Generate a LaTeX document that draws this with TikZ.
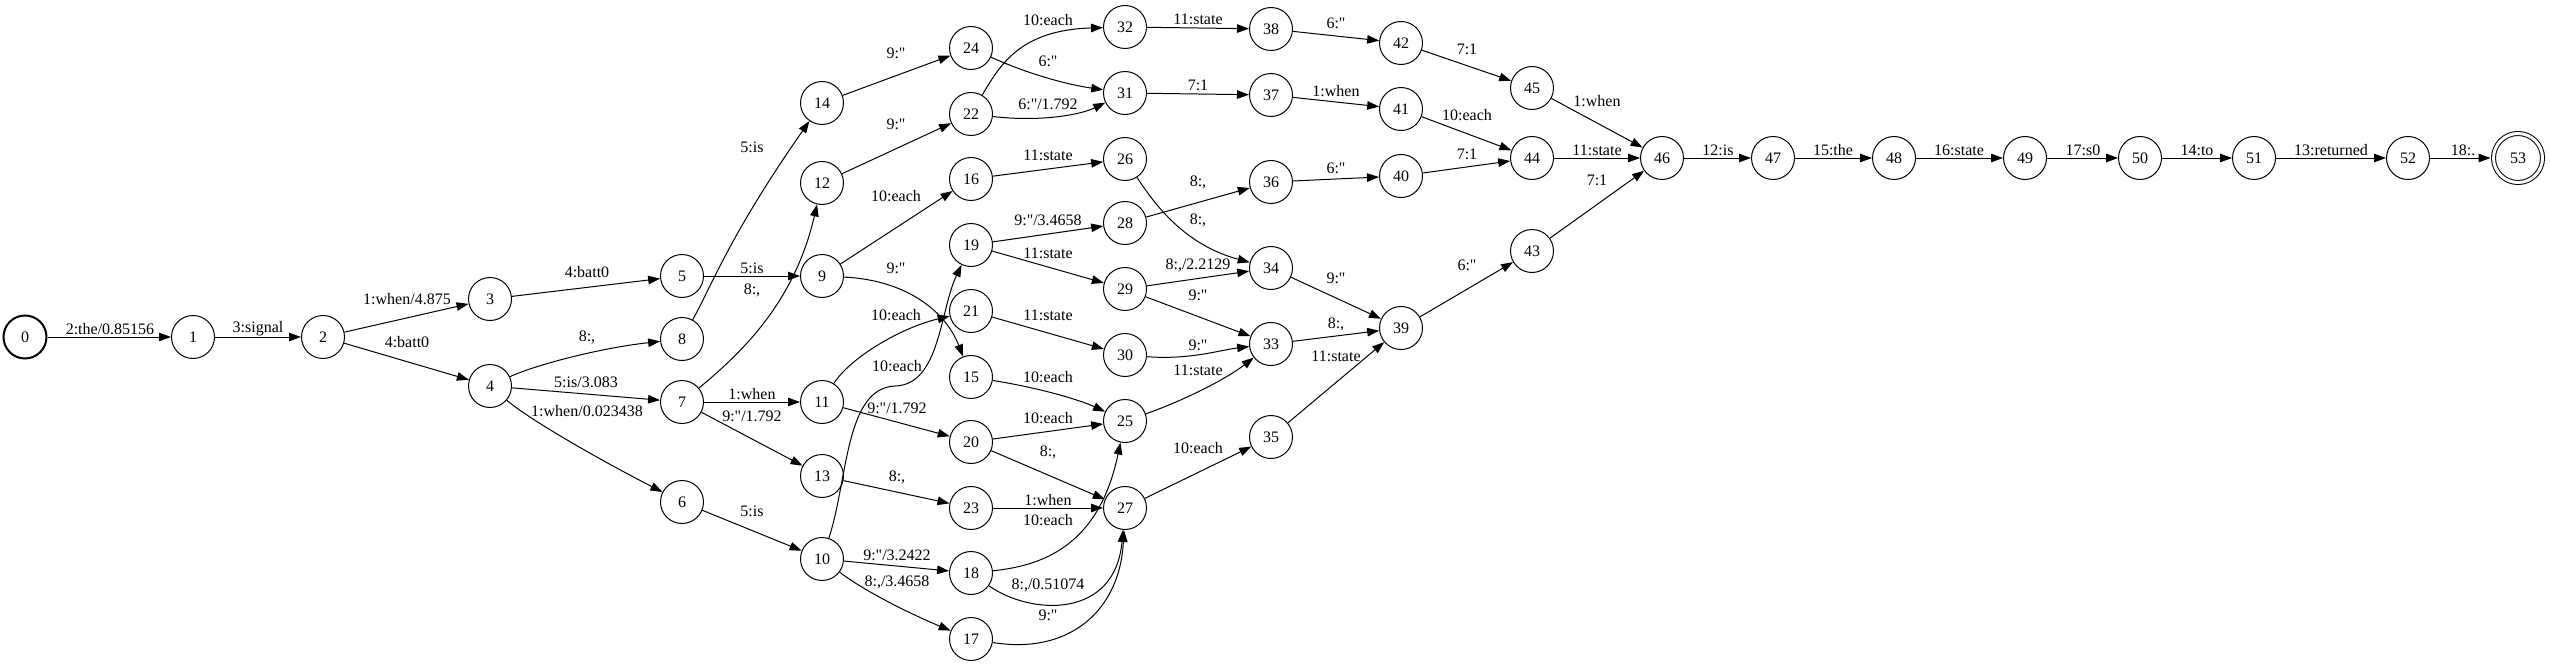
\documentclass[tikz,border=0pt]{standalone}
\usepackage{fontspec}
\setmainfont{Liberation Serif}[Ligatures=TeXOff]
\usetikzlibrary{arrows.meta}
\begin{document}
\begin{tikzpicture}[x=1pt,y=-1pt,
  st/.style={circle,draw,line width=1pt,minimum size=43pt,inner sep=0pt,font=\fontsize{16}{19}\selectfont},
  lb/.style={inner sep=0pt,font=\fontsize{16}{19}\selectfont},
  ed/.style={-{Triangle[length=12pt,width=8.5pt]},line width=1pt}]
\useasboundingbox (0,0) rectangle (2550,666);
% states
\node[st,line width=2pt] (n0) at (25,337) {0};
\node[st] (n1) at (193,337) {1};
\node[st] (n2) at (323,337) {2};
\node[st] (n3) at (490,299) {3};
\node[st] (n4) at (490,386) {4};
\node[st] (n5) at (682,276) {5};
\node[st] (n8) at (682,339) {8};
\node[st] (n7) at (682,402) {7};
\node[st] (n6) at (682,502) {6};
\node[st] (n14) at (822,103) {14};
\node[st] (n12) at (822,183) {12};
\node[st] (n9) at (822,276) {9};
\node[st] (n11) at (822,402) {11};
\node[st] (n13) at (822,476) {13};
\node[st] (n10) at (822,559) {10};
\node[st] (n24) at (971,48) {24};
\node[st] (n22) at (971,114) {22};
\node[st] (n16) at (971,179) {16};
\node[st] (n19) at (971,245) {19};
\node[st] (n21) at (971,311) {21};
\node[st] (n15) at (971,377) {15};
\node[st] (n20) at (971,442) {20};
\node[st] (n23) at (971,508) {23};
\node[st] (n18) at (971,573) {18};
\node[st] (n17) at (971,639) {17};
\node[st] (n32) at (1125,27) {32};
\node[st] (n31) at (1125,93) {31};
\node[st] (n26) at (1125,159) {26};
\node[st] (n28) at (1125,223) {28};
\node[st] (n29) at (1125,289) {29};
\node[st] (n30) at (1125,355) {30};
\node[st] (n25) at (1125,421) {25};
\node[st] (n27) at (1125,508) {27};
\node[st] (n38) at (1271,29) {38};
\node[st] (n37) at (1271,95) {37};
\node[st] (n36) at (1271,182) {36};
\node[st] (n34) at (1271,268) {34};
\node[st] (n33) at (1271,344) {33};
\node[st] (n35) at (1271,437) {35};
\node[st] (n42) at (1401,43) {42};
\node[st] (n41) at (1401,109) {41};
\node[st] (n40) at (1401,176) {40};
\node[st] (n39) at (1401,328) {39};
\node[st] (n45) at (1532,88) {45};
\node[st] (n44) at (1532,158) {44};
\node[st] (n43) at (1532,251) {43};
\node[st] (n46) at (1662,158) {46};
\node[st] (n47) at (1773,158) {47};
\node[st] (n48) at (1894,158) {48};
\node[st] (n49) at (2025,158) {49};
\node[st] (n50) at (2140,158) {50};
\node[st] (n51) at (2254,158) {51};
\node[st] (n52) at (2408,158) {52};
\node[st,minimum size=49pt,double,double distance=3pt,outer sep=3pt] (n53) at (2518,158) {53};
\coordinate (k10) at (895,386);
% edges
\draw[ed] (n0)--(n1);
\draw[ed] (n1)--(n2);
\draw[ed] (n2)--(n3);
\draw[ed] (n2)--(n4);
\draw[ed] (n3)--(n5);
\draw[ed] (n4) .. controls (535,365) and (600,348) .. (n8);
\draw[ed] (n4)--(n7);
\draw[ed] (n4) .. controls (530,420) and (600,460) .. (n6);
\draw[ed] (n5)--(n9);
\draw[ed] (n8) .. controls (712,285) and (730,235) .. (n14);
\draw[ed] (n7) .. controls (745,350) and (795,300) .. (n12);
\draw[ed] (n7)--(n11);
\draw[ed] (n7)--(n13);
\draw[ed] (n6)--(n10);
\draw[ed] (n9)--(n16);
\draw[ed] (n9) .. controls (905,280) and (945,310) .. (n15);
\draw[ed] (n12)--(n22);
\draw[ed] (n14)--(n24);
\draw[ed] (n11) .. controls (850,358) and (900,328) .. (n21);
\draw[ed] (n10) .. controls (848,480) and (845,388) .. (k10) .. controls (940,385) and (940,310) .. (n19);
\draw[ed] (n11)--(n20);
\draw[ed] (n13)--(n23);
\draw[ed] (n10)--(n18);
\draw[ed] (n10) .. controls (870,595) and (920,618) .. (n17);
\draw[ed] (n24) .. controls (1030,75) and (1070,85) .. (n31);
\draw[ed] (n22) .. controls (1000,65) and (1020,30) .. (n32);
\draw[ed] (n22) .. controls (1040,122) and (1080,115) .. (n31);
\draw[ed] (n16)--(n26);
\draw[ed] (n19)--(n28);
\draw[ed] (n19)--(n29);
\draw[ed] (n21)--(n30);
\draw[ed] (n15) .. controls (1040,388) and (1080,400) .. (n25);
\draw[ed] (n20)--(n25);
\draw[ed] (n20)--(n27);
\draw[ed] (n23)--(n27);
\draw[ed] (n18) .. controls (1050,565) and (1100,540) .. (n25);
\draw[ed] (n18) .. controls (1030,615) and (1115,620) .. (n27);
\draw[ed] (n17) .. controls (1070,655) and (1120,610) .. (n27);
\draw[ed] (n32)--(n38);
\draw[ed] (n31)--(n37);
\draw[ed] (n26) .. controls (1155,205) and (1185,245) .. (n34);
\draw[ed] (n28)--(n36);
\draw[ed] (n29)--(n34);
\draw[ed] (n29)--(n33);
\draw[ed] (n30) .. controls (1190,360) and (1220,350) .. (n33);
\draw[ed] (n25) .. controls (1180,402) and (1225,380) .. (n33);
\draw[ed] (n27)--(n35);
\draw[ed] (n38)--(n42);
\draw[ed] (n37)--(n41);
\draw[ed] (n36)--(n40);
\draw[ed] (n34)--(n39);
\draw[ed] (n33)--(n39);
\draw[ed] (n35)--(n39);
\draw[ed] (n42)--(n45);
\draw[ed] (n41)--(n44);
\draw[ed] (n40)--(n44);
\draw[ed] (n39)--(n43);
\draw[ed] (n45)--(n46);
\draw[ed] (n44)--(n46);
\draw[ed] (n43)--(n46);
\draw[ed] (n46)--(n47);
\draw[ed] (n47)--(n48);
\draw[ed] (n48)--(n49);
\draw[ed] (n49)--(n50);
\draw[ed] (n50)--(n51);
\draw[ed] (n51)--(n52);
\draw[ed] (n52)--(n53);
% labels
\node[lb] (t01) at (110,329) {2:the/0.85156};
\node[lb] (t12) at (258,329) {3:signal};
\node[lb] (t23) at (407,299) {1:when/4.875};
\node[lb] (t24) at (407,342) {4:batt0};
\node[lb] (t35) at (587,272) {4:batt0};
\node[lb] (t814) at (752,147) {5:is};
\node[lb] (t59) at (752,268) {5:is};
\node[lb] (t712) at (752,290) {8:,};
\node[lb] (t48) at (587,337) {8:,};
\node[lb] (t47) at (586,382) {5:is/3.083};
\node[lb] (t46) at (587,411) {1:when/0.023438};
\node[lb] (t711) at (752,394) {1:when};
\node[lb] (t713) at (752,416) {9:"/1.792};
\node[lb] (t610) at (752,511) {5:is};
\node[lb] (t1424) at (896,53) {9:"};
\node[lb] (t1222) at (896,124) {9:"};
\node[lb] (t916) at (896,196) {10:each};
\node[lb] (t915) at (896,268) {9:"};
\node[lb] (t1121) at (896,315) {10:each};
\node[lb] (t1019) at (897,366) {10:each};
\node[lb] (t1120) at (897,408) {9:"/1.792};
\node[lb] (t1323) at (897,477) {8:,};
\node[lb] (t1018) at (897,555) {9:"/3.2422};
\node[lb] (t1017) at (897,582) {8:,/3.4658};
\node[lb] (t2232) at (1048,20) {10:each};
\node[lb] (t2431) at (1048,61) {6:"};
\node[lb] (t2231) at (1048,104) {6:"/1.792};
\node[lb] (t1626) at (1048,155) {11:state};
\node[lb] (t1928) at (1048,220) {9:"/3.4658};
\node[lb] (t1929) at (1048,253) {11:state};
\node[lb] (t2130) at (1048,315) {11:state};
\node[lb] (t1525) at (1048,377) {10:each};
\node[lb] (t2025) at (1048,418) {10:each};
\node[lb] (t2027) at (1048,452) {8:,};
\node[lb] (t2327) at (1048,500) {1:when};
\node[lb] (t1825) at (1048,520) {10:each};
\node[lb] (t1827) at (1048,585) {8:,/0.51074};
\node[lb] (t1727) at (1048,615) {9:"};
\node[lb] (t3238) at (1198,19) {11:state};
\node[lb] (t3137) at (1198,85) {7:1};
\node[lb] (t2836) at (1198,182) {8:,};
\node[lb] (t2634) at (1198,220) {8:,};
\node[lb] (t2934) at (1198,265) {8:,/2.2129};
\node[lb] (t2933) at (1198,295) {9:"};
\node[lb] (t3033) at (1198,345) {9:"};
\node[lb] (t2533) at (1198,370) {11:state};
\node[lb] (t2735) at (1198,448) {10:each};
\node[lb] (t3842) at (1336,23) {6:"};
\node[lb] (t3741) at (1336,91) {1:when};
\node[lb] (t3640) at (1336,168) {6:"};
\node[lb] (t3439) at (1336,278) {9:"};
\node[lb] (t3339) at (1336,324) {8:,};
\node[lb] (t3539) at (1336,356) {11:state};
\node[lb] (t4245) at (1467,49) {7:1};
\node[lb] (t4144) at (1467,115) {10:each};
\node[lb] (t4044) at (1467,154) {7:1};
\node[lb] (t3943) at (1467,265) {6:"};
\node[lb] (t4546) at (1597,101) {1:when};
\node[lb] (t4446) at (1597,150) {11:state};
\node[lb] (t4346) at (1597,180) {7:1};
\node[lb] (t4647) at (1718,150) {12:is};
\node[lb] (t4748) at (1833,150) {15:the};
\node[lb] (t4849) at (1959,150) {16:state};
\node[lb] (t4950) at (2083,150) {17:s0};
\node[lb] (t5051) at (2197,150) {14:to};
\node[lb] (t5152) at (2331,150) {13:returned};
\node[lb] (t5253) at (2463,150) {18:.};
\end{tikzpicture}
\end{document}
